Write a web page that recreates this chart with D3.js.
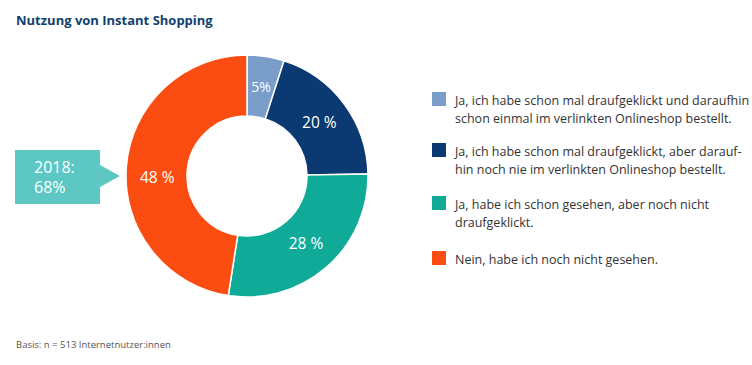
<!DOCTYPE html>
<html>
<head>
<meta charset="utf-8">
<script src="https://cdn.jsdelivr.net/npm/d3@7"></script>
<style>
  body { margin: 0; background: #fff; }
  svg { display: block; font-family: "Open Sans", "Noto Sans", sans-serif; }
</style>
</head>
<body>
<svg id="chart"></svg>
<script>
// data
var categories = [
  ["Ja, ich habe schon mal draufgeklickt und daraufhin", "schon einmal im verlinkten Onlineshop bestellt."],
  ["Ja, ich habe schon mal draufgeklickt, aber darauf-", "hin noch nie im verlinkten Onlineshop bestellt."],
  ["Ja, habe ich schon gesehen, aber noch nicht", "draufgeklickt."],
  ["Nein, habe ich noch nicht gesehen."]
]
var values = [5, 20, 28, 48]
var valueLabels = ["5%", "20 %", "28 %", "48 %"]
var colors = ["#7a9ec9", "#0b3a72", "#10ab98", "#fb4d12"]
var callout = ["2018:", "68%"]

var width = 752, height = 365

var svg = d3.select("#chart")
    .attr("width", width)
    .attr("height", height)

svg.append("text")
    .attr("x", 16).attr("y", 25)
    .style("font-size", "13px")
    .style("font-weight", "700")
    .style("fill", "#123f6e")
    .text("Nutzung von Instant Shopping")

var pie = d3.pie().sort(null).value(d => d)
var arc = d3.arc().innerRadius(60).outerRadius(121)
var labelArc = d3.arc().innerRadius(90).outerRadius(90)

var g = svg.append("g").attr("transform", "translate(247,176)")

var slices = pie(values)

g.selectAll("path")
    .data(slices)
    .enter().append("path")
    .attr("d", arc)
    .style("fill", (d, i) => colors[i])
    .style("stroke", "#fff")
    .style("stroke-width", "1.5px")

// the big slice label sits a bit lower in the original
g.selectAll("text")
    .data(slices)
    .enter().append("text")
    .attr("transform", d => {
        var c = labelArc.centroid(d)
        if (d.index == 3) c[1] += 9
        return "translate(" + c + ")"
    })
    .attr("text-anchor", "middle")
    .attr("dy", "0.35em")
    .style("font-size", (d, i) => i == 0 ? "14px" : "15.5px")
    .style("fill", "#fff")
    .text((d, i) => valueLabels[i])

// callout box on the left
var box = svg.append("g")
box.append("path")
    .attr("d", "M15,150 H100 V165 L120,176 L100,187 V204 H15 Z")
    .style("fill", "#5cc7c3")
box.selectAll("text")
    .data(callout)
    .enter().append("text")
    .attr("x", 34)
    .attr("y", (d, i) => 173 + i * 20)
    .style("font-size", "16px")
    .style("fill", "#fff")
    .text(d => d)

// legend
var legendTop = [92, 143, 196, 251]
var legend = svg.selectAll("g.legend")
    .data(categories)
    .enter().append("g")
    .attr("class", "legend")
    .attr("transform", (d, i) => "translate(432," + legendTop[i] + ")")

legend.append("rect")
    .attr("width", 14).attr("height", 14)
    .style("fill", (d, i) => colors[i])

legend.each(function (lines) {
    var t = d3.select(this).append("text")
        .style("font-size", "12.5px")
        .style("fill", "#333")
    lines.forEach((l, j) => {
        t.append("tspan").attr("x", 23).attr("y", 13 + j * 18).text(l)
    })
})

svg.append("text")
    .attr("x", 16).attr("y", 348)
    .style("font-size", "9.5px")
    .style("fill", "#555")
    .text("Basis: n = 513 Internetnutzer:innen")
</script>
</body>
</html>
